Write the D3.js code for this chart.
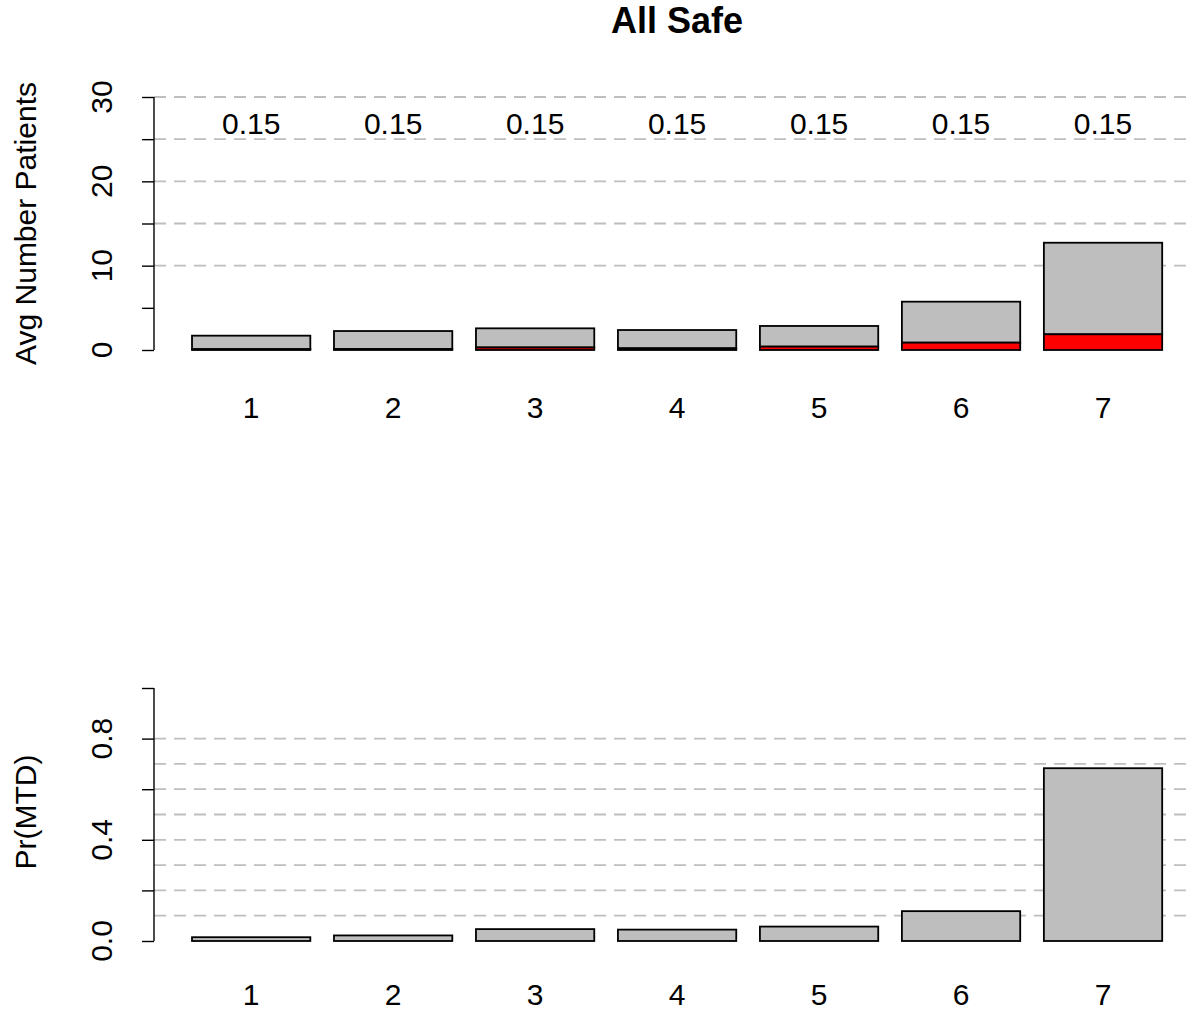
<!DOCTYPE html>
<html><head><meta charset="utf-8">
<script src="https://cdn.jsdelivr.net/npm/d3@7"></script>
<style>body{margin:0;background:#fff}svg{display:block}</style>
</head><body><svg id="c" width="1187" height="1011"></svg>
<script>
// ---- data ----
const doses = ["1", "2", "3", "4", "5", "6", "7"];
const doseTopLabels = ["0.15", "0.15", "0.15", "0.15", "0.15", "0.15", "0.15"];
const avgPatients = [1.70, 2.25, 2.57, 2.37, 2.85, 5.73, 12.72];
const avgDLT = [0.10, 0.12, 0.30, 0.20, 0.40, 0.87, 1.86];
const prMTD = [0.015, 0.022, 0.047, 0.045, 0.057, 0.118, 0.683];
const topTicks = [0, 5, 10, 15, 20, 25, 30];
const topTickLabels = [0, 10, 20, 30];
const topGrid = [10, 15, 20, 25, 30];
const botTicks = [0, 0.2, 0.4, 0.6, 0.8, 1.0];
const botTickLabels = [0, 0.4, 0.8];
const botGrid = [0.1, 0.2, 0.3, 0.4, 0.5, 0.6, 0.7, 0.8];
const chartTitle = "All Safe";
const topYTitle = "Avg Number Patients";
const botYTitle = "Pr(MTD)";

// ---- layout ----
const W = 1187, H = 1011;
const FONT = "'Liberation Sans', Arial, Helvetica, sans-serif";
const FS = 30;
const svg = d3.select("#c");
svg.append("rect").attr("width", W).attr("height", H).attr("fill", "#fff");

// R barplot user coords: bar i spans [0.2+1.2i, 1.2+1.2i]
const x = d3.scaleLinear().domain([-0.128, 8.728]).range([153.2, 1201]);
const barL = i => x(0.2 + 1.2 * i);
const barR = i => x(1.2 + 1.2 * i);
const barC = i => (barL(i) + barR(i)) / 2;
const axisX = 154;

svg.append("text").attr("x", x(4.3)).attr("y", 33)
  .attr("text-anchor", "middle").attr("font-family", FONT)
  .attr("font-weight", "bold").attr("font-size", 36).text(chartTitle);

function panel(cfg) {
  const g = svg.append("g");
  const y = d3.scaleLinear().domain(cfg.domain).range(cfg.range);
  g.selectAll("line.grid").data(cfg.grid).join("line")
    .attr("x1", axisX).attr("x2", W)
    .attr("y1", d => y(d)).attr("y2", d => y(d))
    .attr("stroke", "#bebebe").attr("stroke-width", 1.8)
    .attr("stroke-dasharray", "12,8");
  const ax = g.append("g").attr("transform", `translate(${axisX},0)`)
    .call(d3.axisLeft(y).tickValues(cfg.ticks).tickSize(12).tickSizeOuter(0).tickFormat(""));
  ax.selectAll("path,line").attr("stroke", "#000").attr("stroke-width", 1.4);
  ax.select(".domain").attr("d", `M0,${y(cfg.domain[0])}V${y(cfg.domain[1])}`);
  g.selectAll("text.tl").data(cfg.tickLabels).join("text")
    .attr("transform", d => `translate(112,${y(d)}) rotate(-90)`)
    .attr("text-anchor", "middle").attr("font-family", FONT).attr("font-size", FS)
    .text(cfg.fmt);
  g.append("text").attr("transform", `translate(36,${cfg.titleY}) rotate(-90)`)
    .attr("text-anchor", "middle").attr("font-family", FONT).attr("font-size", FS)
    .text(cfg.ytitle);
  g.selectAll("text.xl").data(doses).join("text")
    .attr("x", (d, i) => barC(i)).attr("y", cfg.xLabY)
    .attr("text-anchor", "middle").attr("font-family", FONT).attr("font-size", FS)
    .text(d => d);
  return {g, y};
}

// top panel
const pTop = panel({domain: [0, 30], range: [350, 97], grid: topGrid, ticks: topTicks,
  tickLabels: topTickLabels, fmt: d => d3.format("d")(d), ytitle: topYTitle,
  titleY: 223.5, xLabY: 417.5});
pTop.g.selectAll("rect.gray").data(avgPatients).join("rect")
  .attr("x", (d, i) => barL(i)).attr("width", (d, i) => barR(i) - barL(i))
  .attr("y", d => pTop.y(d)).attr("height", (d, i) => pTop.y(avgDLT[i]) - pTop.y(d))
  .attr("fill", "#bebebe").attr("stroke", "#000").attr("stroke-width", 1.8);
pTop.g.selectAll("rect.red").data(avgDLT).join("rect")
  .attr("x", (d, i) => barL(i)).attr("width", (d, i) => barR(i) - barL(i))
  .attr("y", d => pTop.y(d)).attr("height", d => pTop.y(0) - pTop.y(d))
  .attr("fill", "#ff0000").attr("stroke", "#000").attr("stroke-width", 1.8);
pTop.g.selectAll("text.dl").data(doseTopLabels).join("text")
  .attr("x", (d, i) => barC(i)).attr("y", 133.5)
  .attr("text-anchor", "middle").attr("font-family", FONT).attr("font-size", FS)
  .text(d => d);

// bottom panel
const pBot = panel({domain: [0, 1], range: [941, 688], grid: botGrid, ticks: botTicks,
  tickLabels: botTickLabels, fmt: d => d3.format(".1f")(d), ytitle: botYTitle,
  titleY: 812, xLabY: 1004.5});
pBot.g.selectAll("rect.mtd").data(prMTD).join("rect")
  .attr("x", (d, i) => barL(i)).attr("width", (d, i) => barR(i) - barL(i))
  .attr("y", d => pBot.y(d)).attr("height", d => pBot.y(0) - pBot.y(d))
  .attr("fill", "#bebebe").attr("stroke", "#000").attr("stroke-width", 1.8);
</script>
</body></html>
